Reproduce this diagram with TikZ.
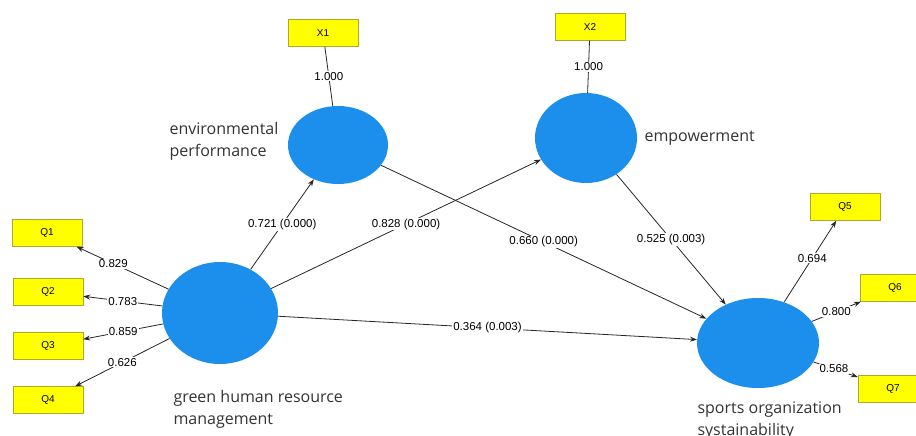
\documentclass[tikz,border=0pt]{standalone}
\usepackage{fontspec}
\setmainfont{Liberation Sans}
\newfontfamily\namefont{Open Sans}
\usetikzlibrary{shapes}
\usetikzlibrary{arrows.meta}
\definecolor{latent}{RGB}{28,142,236}
\definecolor{indicator}{RGB}{255,255,0}
\definecolor{indline}{RGB}{176,168,40}

\begin{document}
\begin{tikzpicture}[x=1pt,y=-1pt,>={Stealth[length=7pt,width=5pt]},
    lv/.style={fill=latent, shape=ellipse, inner sep=0pt},
    mv/.style={draw=indline, fill=indicator, minimum width=70pt, minimum height=27pt, inner sep=0pt, font=\fontsize{10}{12}\selectfont},
    coef/.style={fill=white, inner sep=1pt, font=\fontsize{11.5}{13}\selectfont},
    lvname/.style={align=left, anchor=west, text=black!80, font=\namefont\fontsize{16}{22}\selectfont},
    conn/.style={draw=black!85, line width=0.8pt}]
      \clip (0,0) rectangle (916,436);

      \node[lv, minimum width=116pt, minimum height=102pt] (ghrm) at (220,313) {};
      \node[lv, minimum width=100pt, minimum height=78pt]  (envp) at (338,145) {};
      \node[lv, minimum width=102pt, minimum height=90pt]  (empw) at (586,138) {};
      \node[lv, minimum width=122pt, minimum height=90pt]  (spos) at (758,343) {};

      \node[mv] (q1) at (47,233) {Q1};
      \node[mv] (q2) at (48,292) {Q2};
      \node[mv] (q3) at (48,346) {Q3};
      \node[mv] (q4) at (48,400) {Q4};
      \node[mv] (x1) at (323,33) {X1};
      \node[mv] (x2) at (590,27) {X2};
      \node[mv] (q5) at (845,207) {Q5};
      \node[mv] (q6) at (895,288) {Q6};
      \node[mv] (q7) at (893,389) {Q7};

      \node[lvname] (envpname) at (166,141) {environmental\\performance};
      \node[lvname] (empwname) at (641,138) {empowerment};
      \node[lvname] (ghrmname) at (170,409) {green human resource\\management};
      \node[lvname] (sposname) at (694,421) {sports organization\\systainability};

      \draw[conn,->] (ghrm) -- node[coef,pos=0.6] {0.829} (q1);
      \draw[conn,->] (ghrm) -- node[coef] {0.783} (q2);
      \draw[conn,->] (ghrm) -- node[coef] {0.859} (q3);
      \draw[conn,->] (ghrm) -- node[coef] {0.626} (q4);

      \draw[conn] (x1) -- node[coef] {1.000} (envp);
      \draw[conn] (x2) -- node[coef] {1.000} (empw);

      \draw[conn,->] (ghrm) -- node[coef] {0.721 (0.000)} (envp);
      \draw[conn,->] (ghrm) -- node[coef] {0.828 (0.000)} (empw);
      \draw[conn,->] (ghrm) -- node[coef] {0.364 (0.003)} (spos);
      \draw[conn,->] (envp) -- node[coef] {0.660 (0.000)} (spos);
      \draw[conn,->] (empw) -- node[coef] {0.525 (0.003)} (spos);

      \draw[conn,->] (spos) -- node[coef,pos=0.54] {0.694} (q5);
      \draw[conn,->] (spos) -- node[coef] {0.800} (q6);
      \draw[conn,->] (spos) -- node[coef,pos=0.46] {0.568} (q7);
\end{tikzpicture}
\end{document}
